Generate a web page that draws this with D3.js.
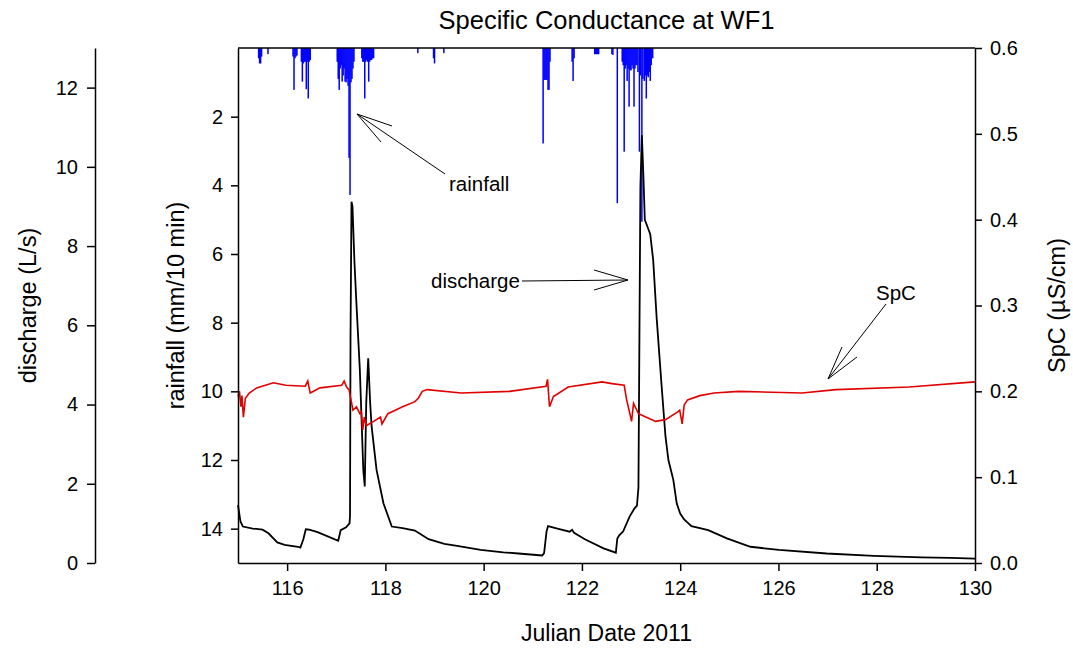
<!DOCTYPE html>
<html>
<head>
<meta charset="utf-8">
<script src="https://cdn.jsdelivr.net/npm/d3@7"></script>
<style>
  body { margin: 0; background: #fff; }
  svg { font-family: "Liberation Sans", Arial, sans-serif; }
  .axis path, .axis line { stroke: #000; stroke-width: 1.5; }
  .axis text { font-size: 20px; fill: #000; }
</style>
</head>
<body>
<svg id="chart" width="1073" height="648"></svg>
<script>
// discharge (L/s) by Julian day
const dischargeData = [
  [115.00,1.46],[115.05,1.05],[115.10,0.92],[115.30,0.87],[115.50,0.84],[115.62,0.75],
  [115.80,0.52],[115.95,0.46],[116.22,0.41],[116.27,0.39],[116.33,0.60],[116.38,0.85],
  [116.45,0.84],[116.62,0.78],[116.85,0.66],[117.04,0.56],[117.09,0.83],[117.20,0.90],
  [117.27,1.00],[117.28,1.20],[117.29,5.70],[117.31,9.12],[117.33,9.00],[117.37,7.60],
  [117.41,6.56],[117.48,4.87],[117.55,2.35],[117.58,1.93],[117.61,4.04],[117.65,5.17],
  [117.69,4.04],[117.72,3.44],[117.82,2.35],[117.96,1.51],[118.13,0.92],[118.35,0.88],
  [118.60,0.82],[118.88,0.60],[119.20,0.48],[119.46,0.43],[119.94,0.33],[120.40,0.27],
  [120.71,0.24],[121.19,0.19],[121.23,0.25],[121.28,0.80],[121.31,0.93],[121.50,0.87],
  [121.75,0.79],[121.80,0.84],[121.84,0.76],[122.06,0.60],[122.44,0.37],[122.69,0.26],
  [122.72,0.62],[122.76,0.70],[122.84,0.80],[122.97,1.17],[123.07,1.38],[123.12,1.45],
  [123.15,1.90],[123.17,5.70],[123.19,9.50],[123.22,10.80],[123.25,9.80],[123.28,8.66],
  [123.33,8.50],[123.39,8.30],[123.45,7.65],[123.52,6.20],[123.62,4.50],[123.70,3.20],
  [123.76,2.60],[123.86,2.10],[123.93,1.50],[124.00,1.25],[124.08,1.10],[124.23,0.93],
  [124.57,0.83],[124.95,0.62],[125.43,0.41],[126.01,0.33],[126.98,0.24],[127.94,0.18],
  [128.91,0.14],[129.50,0.13],[130.00,0.11]
];

// specific conductance (uS/cm)
const spcData = [
  [115.00,0.194],[115.03,0.200],[115.06,0.182],[115.08,0.195],[115.11,0.170],[115.15,0.192],
  [115.23,0.198],[115.38,0.204],[115.72,0.210],[115.97,0.207],[116.37,0.206],[116.42,0.212],
  [116.47,0.198],[116.67,0.204],[117.11,0.207],[117.16,0.212],[117.21,0.205],[117.26,0.202],
  [117.34,0.178],[117.41,0.182],[117.48,0.174],[117.51,0.176],[117.54,0.155],[117.57,0.170],
  [117.61,0.160],[117.76,0.165],[117.90,0.170],[117.93,0.162],[118.05,0.174],[118.20,0.178],
  [118.35,0.182],[118.60,0.188],[118.67,0.192],[118.75,0.200],[118.85,0.202],[119.54,0.198],
  [120.53,0.200],[121.27,0.206],[121.30,0.214],[121.34,0.182],[121.42,0.194],[121.72,0.205],
  [122.41,0.211],[122.61,0.209],[122.86,0.207],[122.91,0.190],[122.96,0.178],[123.01,0.165],
  [123.05,0.186],[123.10,0.180],[123.15,0.174],[123.30,0.170],[123.50,0.165],[123.70,0.167],
  [123.95,0.176],[123.99,0.178],[124.04,0.162],[124.08,0.184],[124.15,0.190],[124.40,0.195],
  [124.69,0.198],[125.19,0.200],[126.48,0.198],[127.17,0.202],[128.66,0.205],[130.00,0.211]
];

// rainfall (mm/10 min)
const rainfallData = [
  [115.42,0.30],[115.44,0.45],[115.46,0.45],[115.48,0.25],[115.61,0.18],
  [116.12,0.25],[116.14,1.22],[116.16,0.30],[116.18,0.25],[116.20,0.22],
  [116.29,0.40],[116.31,0.98],[116.33,0.45],[116.35,0.40],[116.37,0.40],[116.39,1.20],
  [116.41,0.40],[116.43,1.47],[116.45,0.40],[116.47,0.35],
  [117.02,0.40],[117.04,0.90],[117.06,1.22],[117.08,0.60],[117.10,0.50],[117.12,0.98],
  [117.14,0.80],[117.16,0.60],[117.18,0.98],[117.20,1.00],[117.22,0.90],[117.24,1.10],
  [117.26,3.20],[117.28,4.28],[117.30,1.00],[117.32,0.90],[117.34,0.60],[117.36,0.40],
  [117.52,0.30],[117.54,0.40],[117.56,0.40],[117.58,1.47],[117.60,0.40],[117.62,0.35],
  [117.64,0.40],[117.66,0.98],[117.68,0.40],[117.70,0.35],[117.72,0.35],[117.74,0.30],
  [117.76,0.30],
  [118.66,0.15],[118.98,0.30],[119.00,0.45],[119.19,0.15],
  [121.21,2.78],[121.23,0.93],[121.25,0.93],[121.27,0.93],[121.29,0.93],[121.31,1.22],
  [121.33,1.22],[121.35,0.40],
  [121.80,0.40],[121.82,0.96],[121.84,0.30],[122.26,0.18],[122.28,0.18],[122.30,0.18],
  [122.32,0.18],[122.34,0.18],[122.61,0.18],[122.63,0.20],[122.72,4.52],
  [122.82,0.40],[122.84,0.50],[122.86,3.02],[122.88,0.60],[122.90,0.50],[122.92,0.96],
  [122.94,0.60],[122.96,1.71],[122.98,0.65],[123.00,0.65],[123.02,0.50],[123.04,0.60],
  [123.06,1.71],[123.08,0.60],[123.10,0.50],[123.12,0.50],[123.14,0.70],[123.17,3.02],
  [123.19,0.80],[123.22,5.06],[123.24,0.90],[123.27,0.96],[123.29,0.80],[123.31,1.47],
  [123.33,0.80],[123.35,0.85],[123.37,0.70],[123.39,0.96],[123.41,0.50],[123.44,0.30]
];

const dayTicks = [116, 118, 120, 122, 124, 126, 128, 130];
const dischargeTicks = [0, 2, 4, 6, 8, 10, 12];
const rainTicks = [2, 4, 6, 8, 10, 12, 14];
const spcTicks = [0, 0.1, 0.2, 0.3, 0.4, 0.5, 0.6];

const svg = d3.select('#chart');
const plotLeft = 238, plotRight = 975, plotTop = 48, plotBottom = 563;
const qAxisX = 95;

const x = d3.scaleLinear().domain([115, 130]).range([plotLeft, plotRight]);
const yQ = d3.scaleLinear().domain([0, 13]).range([plotBottom, plotTop]);
const yRain = d3.scaleLinear().domain([0, 15]).range([plotTop, plotBottom]);
const ySpc = d3.scaleLinear().domain([0, 0.6]).range([plotBottom, plotTop]);

// rainfall bars hanging from the top
svg.append('g')
  .selectAll('rect')
  .data(rainfallData)
  .enter().append('rect')
  .attr('x', d => x(d[0]) - 0.75)
  .attr('y', yRain(0))
  .attr('width', 1.5)
  .attr('height', d => yRain(d[1]) - yRain(0))
  .style('fill', '#0000ff');

const line = (yScale) => d3.line().x(d => x(d[0])).y(d => yScale(d[1]));

svg.append('path')
  .datum(dischargeData)
  .attr('d', line(yQ))
  .style('fill', 'none').style('stroke', '#000').style('stroke-width', 1.8);

svg.append('path')
  .datum(spcData)
  .attr('d', line(ySpc))
  .style('fill', 'none').style('stroke', '#e00000').style('stroke-width', 1.6);

// frame top line
svg.append('line')
  .attr('x1', plotLeft).attr('x2', plotRight).attr('y1', plotTop).attr('y2', plotTop)
  .style('stroke', '#000').style('stroke-width', 1.5);

svg.append('g').attr('class', 'axis')
  .attr('transform', `translate(0,${plotBottom})`)
  .call(d3.axisBottom(x).tickValues(dayTicks).tickSize(8).tickSizeOuter(0).tickPadding(10));

svg.append('g').attr('class', 'axis')
  .attr('transform', `translate(${plotLeft},0)`)
  .call(d3.axisLeft(yRain).tickValues(rainTicks).tickSize(7).tickSizeOuter(0).tickPadding(8));

svg.append('g').attr('class', 'axis')
  .attr('transform', `translate(${plotRight},0)`)
  .call(d3.axisRight(ySpc).tickValues(spcTicks).tickFormat(d3.format('.1f')).tickSize(7).tickSizeOuter(0).tickPadding(8));

svg.append('g').attr('class', 'axis')
  .attr('transform', `translate(${qAxisX},0)`)
  .call(d3.axisLeft(yQ).tickValues(dischargeTicks).tickSize(8).tickSizeOuter(0).tickPadding(9));

// titles
svg.append('text').attr('x', (plotLeft + plotRight) / 2).attr('y', 29)
  .attr('text-anchor', 'middle').style('font-size', '25.5px')
  .text('Specific Conductance at WF1');

svg.append('text').attr('x', (plotLeft + plotRight) / 2).attr('y', 641)
  .attr('text-anchor', 'middle').style('font-size', '23px')
  .text('Julian Date 2011');

const vLabel = (cx, text) => svg.append('text')
  .attr('transform', `translate(${cx},${(plotTop + plotBottom) / 2}) rotate(-90)`)
  .attr('text-anchor', 'middle').attr('dy', '0.35em')
  .style('font-size', '23.5px').text(text);

vLabel(28, 'discharge (L/s)');
vLabel(176, 'rainfall (mm/10 min)');
vLabel(1057, 'SpC (µS/cm)');

// annotations with open arrowheads
const annot = svg.append('g').style('stroke', '#000').style('stroke-width', 1).style('fill', 'none');
const seg = (x1, y1, x2, y2) => annot.append('line')
  .attr('x1', x1).attr('y1', y1).attr('x2', x2).attr('y2', y2);

seg(445, 174, 357, 114); seg(357, 114, 392, 126); seg(357, 114, 381, 142);
seg(522, 281, 628, 280); seg(628, 280, 594, 270); seg(628, 280, 594, 290);
seg(886, 304, 828, 379); seg(828, 379, 842, 347); seg(828, 379, 857, 357);

const note = (tx, ty, text) => svg.append('text')
  .attr('x', tx).attr('y', ty).style('font-size', '20.5px').text(text);
note(449, 191, 'rainfall');
note(431, 288, 'discharge');
note(876, 300, 'SpC');
</script>
</body>
</html>
